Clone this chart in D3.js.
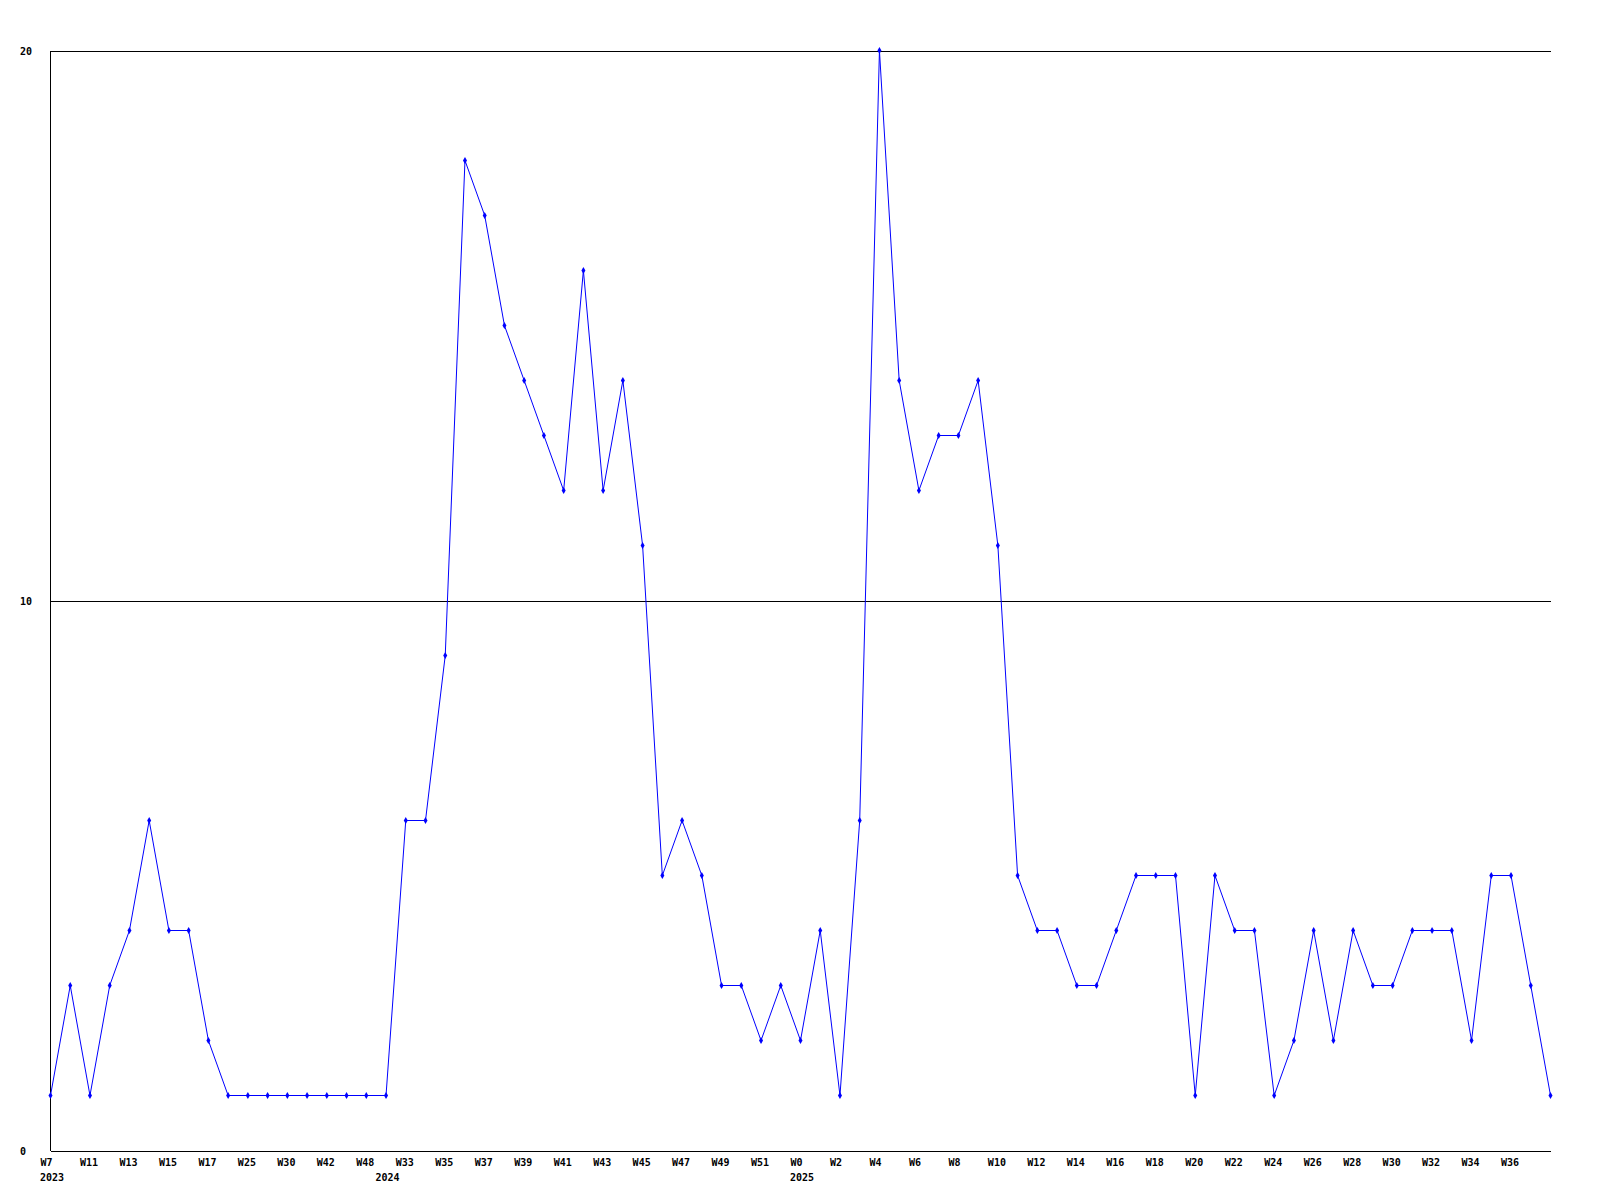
<!DOCTYPE html>
<html>
<head>
<meta charset="utf-8">
<script src="https://cdn.jsdelivr.net/npm/d3@7/dist/d3.min.js"></script>
<style>
  html, body { margin: 0; padding: 0; background: #fff; }
  svg { display: block; }
  text { font-family: "DejaVu Sans Mono", "Liberation Mono", monospace; font-size: 10px; font-weight: bold; fill: #000; }
</style>
</head>
<body>
<svg id="chart" width="1600" height="1200"></svg>
<script>
// Weekly values, one per point (77 points)
const values = [
  1, 3, 1, 3, 4, 6, 4, 4, 2, 1,
  1, 1, 1, 1, 1, 1, 1, 1, 6, 6,
  9, 18, 17, 15, 14, 13, 12, 16, 12, 14,
  11, 5, 6, 5, 3, 3, 2, 3, 2, 4,
  1, 6, 20, 14, 12, 13, 13, 14, 11, 5,
  4, 4, 3, 3, 4, 5, 5, 5, 1, 5,
  4, 4, 1, 2, 4, 2, 4, 3, 3, 4,
  4, 4, 2, 5, 5, 3, 1
];

// Labels shown on every second point (indices 0, 2, 4, ...)
const tickLabels = [
  "W7", "W11", "W13", "W15", "W17", "W25", "W30", "W42", "W48",
  "W33", "W35", "W37", "W39", "W41", "W43", "W45", "W47", "W49", "W51",
  "W0", "W2", "W4", "W6", "W8", "W10", "W12", "W14", "W16", "W18",
  "W20", "W22", "W24", "W26", "W28", "W30", "W32", "W34", "W36"
];

// Year labels and the point index where each year starts
const yearLabels = ["2023", "2024", "2025"];
const yearStarts = [0, 17, 38];

const yTicks = [0, 10, 20];

(function () {
const svg = d3.select("#chart");
const mLeft = 50.5, mRight = 1550.5, mTop = 50.5, mBottom = 1150.5;

const x = d3.scalePoint().domain(d3.range(values.length)).range([mLeft, mRight]);
const y = d3.scaleLinear().domain([0, 20]).range([mBottom, mTop]);

// Y axis with gridlines
const yAxis = d3.axisLeft(y).tickValues(yTicks).tickSize(-(mRight - mLeft)).tickFormat(d3.format("d"));
const gy = svg.append("g").attr("transform", `translate(${mLeft},0)`).call(yAxis);
gy.select(".domain").remove();
gy.selectAll(".tick line").attr("stroke", "#000").attr("stroke-width", 1).attr("shape-rendering", "crispEdges");
gy.selectAll(".tick text")
  .attr("x", 20 - mLeft).attr("dy", "0.35em")
  .attr("text-anchor", "start")
  .style("font-family", "'DejaVu Sans Mono', monospace").style("font-size", "10px").style("font-weight", "bold");

// Y axis line
svg.append("line").attr("x1", mLeft).attr("x2", mLeft).attr("y1", mTop).attr("y2", mBottom)
  .attr("stroke", "#000").attr("shape-rendering", "crispEdges");

// X axis
const evenIdx = d3.range(0, values.length, 2).slice(0, tickLabels.length);
const xAxis = d3.axisBottom(x).tickValues(evenIdx).tickSize(0).tickFormat(i => tickLabels[i / 2]);
const gx = svg.append("g").attr("transform", `translate(0,${mBottom})`).call(xAxis);
gx.select(".domain").attr("stroke", "#000").attr("shape-rendering", "crispEdges");
gx.selectAll(".tick text")
  .attr("text-anchor", "start").attr("x", -10.5).attr("y", 11.5).attr("dy", "0.35em")
  .style("font-family", "'DejaVu Sans Mono', monospace").style("font-size", "10px").style("font-weight", "bold");

// Year labels
svg.append("g").selectAll("text").data(yearLabels).join("text")
  .attr("x", (d, i) => x(yearStarts[i]) - 10.5)
  .attr("y", mBottom + 26.5)
  .attr("dy", "0.35em")
  .text(d => d);

// Line
const line = d3.line().x((d, i) => x(i)).y(d => y(d));
svg.append("path").datum(values)
  .attr("d", line).attr("fill", "none").attr("stroke", "#0000ff").attr("stroke-width", 1);

// Markers
const sym = d3.symbol().type(d3.symbolDiamond).size(14);
svg.append("g").selectAll("path").data(values).join("path")
  .attr("transform", (d, i) => `translate(${x(i)},${y(d)})`)
  .attr("d", sym).attr("fill", "#0000ff");
})();
</script>
</body>
</html>
